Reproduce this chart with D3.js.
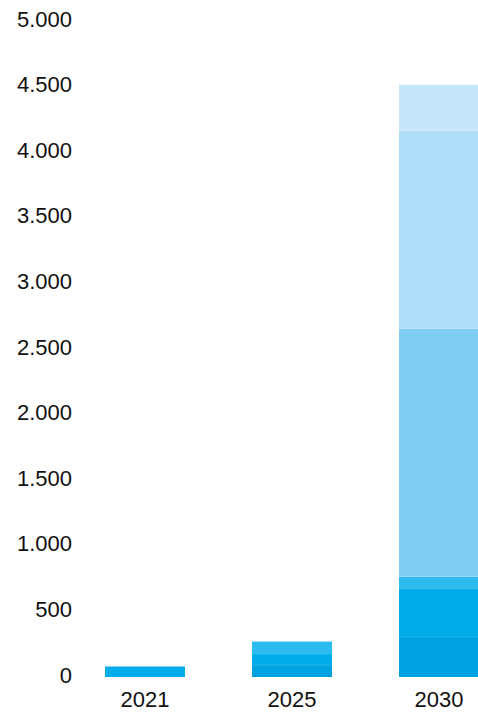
<!DOCTYPE html>
<html>
<head>
<meta charset="utf-8">
<script src="https://cdn.jsdelivr.net/npm/d3@7"></script>
<style>
  html, body { margin: 0; padding: 0; background: #fff; }
  svg { display: block; }
  text { font-family: "Liberation Sans", Arial, Helvetica, sans-serif; fill: #111; }
</style>
</head>
<body>
<svg id="chart" width="478" height="715"></svg>
<script>
const years = ["2021", "2025", "2030"];
const seriesA = [0, 91, 305];
const seriesB = [80, 84, 366];
const seriesC = [0, 95, 93];
const seriesD = [0, 0, 1890];
const seriesE = [0, 0, 1509];
const seriesF = [0, 0, 351];
const seriesKeys = ["A", "B", "C", "D", "E", "F"];
const seriesColors = ["#00A2E1", "#00ADEA", "#2BBBEE", "#7FCDF2", "#ADDDF7", "#C5E5F9"];
const yTicks = [0, 500, 1000, 1500, 2000, 2500, 3000, 3500, 4000, 4500, 5000];

const seriesVals = [seriesA, seriesB, seriesC, seriesD, seriesE, seriesF];
const rows = years.map((y, i) => {
  const r = { year: y };
  seriesKeys.forEach((k, j) => r[k] = seriesVals[j][i]);
  return r;
});

const svg = d3.select("#chart");
const x = d3.scaleBand().domain(years).range([105, 479]).paddingInner(0.456).paddingOuter(0);
const y = d3.scaleLinear().domain([0, 5000]).range([677, 21]);
const color = d3.scaleOrdinal().domain(seriesKeys).range(seriesColors);

const stack = d3.stack().keys(seriesKeys)(rows);

svg.append("g").selectAll("g")
  .data(stack).join("g")
  .attr("fill", d => color(d.key))
  .selectAll("rect")
  .data(d => d.filter(p => p[1] - p[0] > 0))
  .join("rect")
  .attr("x", d => x(d.data.year))
  .attr("width", x.bandwidth())
  .attr("y", d => y(d[1]))
  .attr("height", d => y(d[0]) - y(d[1]));

// faint light separators between segments
svg.append("g").selectAll("line")
  .data(stack.flatMap(s => s.filter(p => p[1] - p[0] > 0 && p[0] > 0)))
  .join("line")
  .attr("x1", d => x(d.data.year))
  .attr("x2", d => x(d.data.year) + x.bandwidth())
  .attr("y1", d => y(d[0]))
  .attr("y2", d => y(d[0]))
  .attr("stroke", "rgba(255,255,255,0.18)")
  .attr("stroke-width", 0.6);

const fmt = v => d3.format(",")(v).replace(/,/g, ".");

const yAxis = svg.append("g")
  .attr("transform", "translate(72,0)")
  .call(d3.axisLeft(y).tickValues(yTicks).tickSize(0).tickPadding(0).tickFormat(fmt));
yAxis.select(".domain").remove();
yAxis.selectAll("text")
  .attr("font-size", 22)
  .attr("dy", "0.32em")
  .attr("y", -2)
  .attr("fill", "#111");

const xAxis = svg.append("g")
  .attr("transform", "translate(0,677)")
  .call(d3.axisBottom(x).tickSize(0).tickPadding(0));
xAxis.select(".domain").remove();
xAxis.selectAll("text")
  .attr("font-size", 22)
  .attr("dy", 0)
  .attr("y", 30)
  .attr("fill", "#111");
</script>
</body>
</html>
